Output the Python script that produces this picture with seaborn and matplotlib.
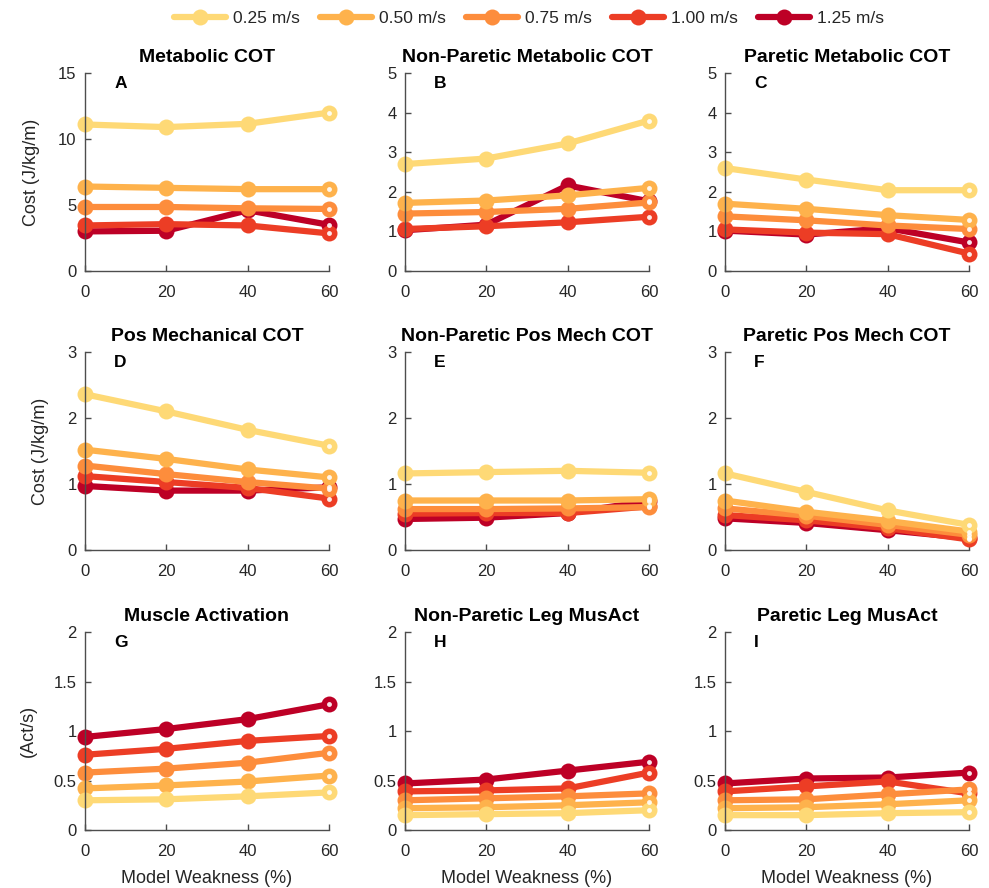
import numpy as np
import pandas as pd
import seaborn as sns
import matplotlib
matplotlib.use("Agg")
import matplotlib.pyplot as plt
from matplotlib.lines import Line2D

weakness = [0, 20, 40, 60]
speeds = ["0.25 m/s", "0.50 m/s", "0.75 m/s", "1.00 m/s", "1.25 m/s"]
colors = ["#FED976", "#FEB24C", "#FD8D3C", "#EC3D25", "#BD0026"]

titles = ["Metabolic COT", "Non-Paretic Metabolic COT", "Paretic Metabolic COT",
          "Pos Mechanical COT", "Non-Paretic Pos Mech COT", "Paretic Pos Mech COT",
          "Muscle Activation", "Non-Paretic Leg MusAct", "Paretic Leg MusAct"]
letters = ["A", "B", "C", "D", "E", "F", "G", "H", "I"]

# values per panel, rows = speeds (0.25 .. 1.25), cols = weakness
met_cot = [[11.1, 10.9, 11.15, 12.0],
           [6.4, 6.3, 6.2, 6.2],
           [4.85, 4.85, 4.75, 4.7],
           [3.45, 3.55, 3.45, 2.85],
           [3.0, 3.05, 4.6, 3.5]]
np_met_cot = [[2.7, 2.84, 3.22, 3.8],
              [1.72, 1.78, 1.91, 2.1],
              [1.45, 1.49, 1.57, 1.73],
              [1.06, 1.13, 1.23, 1.37],
              [1.03, 1.17, 2.16, 1.76]]
p_met_cot = [[2.6, 2.31, 2.04, 2.04],
             [1.7, 1.57, 1.41, 1.29],
             [1.38, 1.28, 1.15, 1.06],
             [1.05, 0.97, 0.93, 0.44],
             [1.02, 0.92, 1.08, 0.72]]
pos_mech = [[2.36, 2.1, 1.82, 1.58],
            [1.52, 1.38, 1.22, 1.1],
            [1.28, 1.15, 1.03, 0.93],
            [1.12, 1.03, 0.94, 0.78],
            [0.97, 0.9, 0.9, 0.95]]
np_pos_mech = [[1.16, 1.18, 1.2, 1.17],
               [0.75, 0.75, 0.75, 0.77],
               [0.62, 0.62, 0.63, 0.65],
               [0.55, 0.56, 0.56, 0.66],
               [0.47, 0.49, 0.56, 0.74]]
p_pos_mech = [[1.16, 0.88, 0.6, 0.38],
              [0.75, 0.58, 0.44, 0.28],
              [0.63, 0.52, 0.38, 0.23],
              [0.53, 0.45, 0.33, 0.16],
              [0.48, 0.41, 0.3, 0.18]]
mus_act = [[0.3, 0.31, 0.34, 0.38],
           [0.42, 0.45, 0.49, 0.55],
           [0.58, 0.62, 0.68, 0.78],
           [0.76, 0.82, 0.9, 0.95],
           [0.94, 1.02, 1.12, 1.27]]
np_mus_act = [[0.15, 0.16, 0.17, 0.2],
              [0.22, 0.23, 0.25, 0.28],
              [0.3, 0.32, 0.34, 0.37],
              [0.39, 0.4, 0.42, 0.58],
              [0.47, 0.51, 0.6, 0.69]]
p_mus_act = [[0.15, 0.15, 0.17, 0.18],
             [0.22, 0.23, 0.26, 0.3],
             [0.3, 0.31, 0.36, 0.41],
             [0.39, 0.44, 0.49, 0.37],
             [0.47, 0.52, 0.53, 0.58]]

panels = [met_cot, np_met_cot, p_met_cot, pos_mech, np_pos_mech, p_pos_mech,
          mus_act, np_mus_act, p_mus_act]
ylims = [15, 5, 5, 3, 3, 3, 2, 2, 2]
yticks = [[0, 5, 10, 15], [0, 1, 2, 3, 4, 5], [0, 1, 2, 3, 4, 5],
          [0, 1, 2, 3], [0, 1, 2, 3], [0, 1, 2, 3],
          [0, 0.5, 1, 1.5, 2], [0, 0.5, 1, 1.5, 2], [0, 0.5, 1, 1.5, 2]]
ytick_labels = [["0", "5", "10", "15"], ["0", "1", "2", "3", "4", "5"], ["0", "1", "2", "3", "4", "5"],
                ["0", "1", "2", "3"], ["0", "1", "2", "3"], ["0", "1", "2", "3"],
                ["0", "0.5", "1", "1.5", "2"], ["0", "0.5", "1", "1.5", "2"], ["0", "0.5", "1", "1.5", "2"]]

sns.set_theme(style="ticks")
plt.rcParams["font.family"] = ["Liberation Sans", "DejaVu Sans"]

W, H = 989, 888
fig = plt.figure(figsize=(W / 100, H / 100), dpi=100)

lefts = [85, 405, 725]
tops = [73, 352, 632]
aw, ah = 244, 198

LW = 4.5
MS = 11.5

for i in range(9):
    r, c = divmod(i, 3)
    ax = fig.add_axes([lefts[c] / W, 1 - (tops[r] + ah) / H, aw / W, ah / H])
    data = panels[i]
    # draw fastest first so slowest is on top
    for k in reversed(range(5)):
        df = pd.DataFrame({"x": weakness, "y": data[k]})
        sns.lineplot(data=df, x="x", y="y", ax=ax, color=colors[k], linewidth=LW,
                     marker="o", markersize=MS, markeredgewidth=0, clip_on=False,
                     solid_capstyle="butt")
        # small light centre on the end marker
        ax.plot(weakness[-1:], data[k][-1:], linestyle="none", marker="o",
                markersize=3.5, markeredgewidth=0, color="white", alpha=0.9,
                clip_on=False, zorder=5)
    ax.set_xlim(0, 60)
    ax.set_ylim(0, ylims[i])
    ax.set_xticks(weakness)
    ax.set_xticklabels([str(v) for v in weakness])
    ax.set_yticks(yticks[i])
    ax.set_yticklabels(ytick_labels[i])
    for s in ["top", "right"]:
        ax.spines[s].set_visible(False)
    for s in ["left", "bottom"]:
        ax.spines[s].set_color("#4d4d4d")
        ax.spines[s].set_linewidth(1.0)
    ax.tick_params(axis="both", direction="in", length=4, width=1.0, color="#4d4d4d",
                   labelsize=12, labelcolor="#262626")
    ax.tick_params(axis="x", pad=10)
    ax.tick_params(axis="y", pad=6)
    ax.set_xlabel("")
    ax.set_ylabel("")
    ax.set_title(titles[i], fontsize=14, fontweight="bold", pad=8, color="black")
    ax.text(0.12, 0.945, letters[i], transform=ax.transAxes, fontsize=12.5,
            fontweight="bold", ha="left", va="center", color="black")
    if c == 0:
        ax.set_ylabel("Cost (J/kg/m)" if r < 2 else "(Act/s)", fontsize=13,
                      color="#262626", labelpad=13 if r < 2 else 12)
    if r == 2:
        ax.set_xlabel("Model Weakness (%)", fontsize=13, color="#262626", labelpad=8)

handles = [Line2D([0], [0], color=colors[k], linewidth=LW, marker="o", markersize=MS,
                  markeredgewidth=0) for k in range(5)]
fig.legend(handles, speeds, loc="center", bbox_to_anchor=(0.535, 0.979), ncol=5,
           frameon=False, fontsize=12.5, handlelength=3.0, columnspacing=1.15,
           handletextpad=0.4, labelcolor="#262626")

fig.savefig("out.png", dpi=100)
